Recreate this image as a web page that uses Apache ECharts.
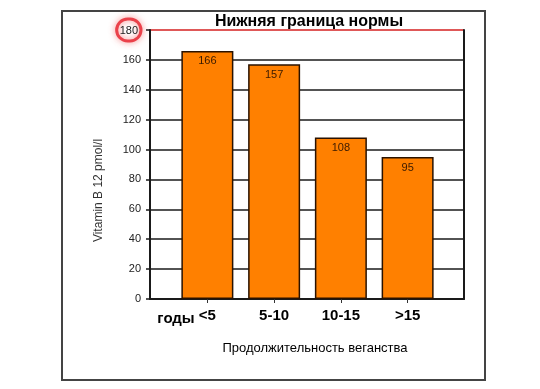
<!DOCTYPE html>
<html>
<head>
<meta charset="utf-8">
<script src="https://cdn.jsdelivr.net/npm/echarts@6/dist/echarts.min.js"></script>
<style>
html,body{margin:0;padding:0;background:#fff;}
#c{width:540px;height:389px;}
</style>
</head>
<body>
<div id="c"></div>
<script>
const categories = ['<5', '5-10', '10-15', '>15'];
const values = [166, 157, 108, 95];
const yTicks = [0, 20, 40, 60, 80, 100, 120, 140, 160, 180];
const titleText = 'Нижняя граница нормы';
const xTitle = 'Продолжительность веганства';
const yTitle = 'Vitamin B 12 pmol/l';
const yearsLabel = 'годы';

const FONT = '"Liberation Sans", Arial, sans-serif';
const yMin = yTicks[0], yMax = yTicks[yTicks.length - 1], yStep = yTicks[1] - yTicks[0];
const splitColors = yTicks.map(v => v === yMax ? '#d42020' : '#1a1a1a');

const chart = echarts.init(document.getElementById('c'));
chart.setOption({
  backgroundColor: '#fff',
  animation: false,
  graphic: [{
    type: 'rect', shape: {x: 62, y: 11, width: 423, height: 369},
    style: {fill: 'none', stroke: '#444', lineWidth: 2}, z: -1
  }],
  title: [
    {text: titleText, left: 304, top: 9, textAlign: 'center',
     textStyle: {fontFamily: FONT, fontSize: 16, fontWeight: 'bold', color: '#000'}},
    {text: xTitle, left: 310, top: 337, textAlign: 'center',
     textStyle: {fontFamily: FONT, fontSize: 13, fontWeight: 'normal', color: '#000'}},
    {text: yearsLabel, left: 171, top: 306, textAlign: 'center',
     textStyle: {fontFamily: FONT, fontSize: 15, fontWeight: 'bold', color: '#000'}}
  ],
  grid: [
    {left: 150, right: 76, top: 30, bottom: 90},
    {left: 174, right: 99, top: 30, bottom: 90}
  ],
  xAxis: [
    {type: 'value', gridIndex: 0, min: 0, max: 1, show: true,
     axisLine: {show: true, lineStyle: {color: '#1a1a1a', width: 2}},
     axisTick: {show: false}, axisLabel: {show: false}, splitLine: {show: false}},
    {type: 'category', gridIndex: 1, data: categories,
     axisLine: {show: false},
     axisTick: {show: true, alignWithLabel: true, length: 4, lineStyle: {color: '#333', width: 1}},
     axisLabel: {margin: 9, fontFamily: FONT, fontSize: 15, fontWeight: 'bold', color: '#000'}}
  ],
  yAxis: [
    {type: 'value', gridIndex: 0, min: yMin, max: yMax, interval: yStep,
     name: yTitle, nameLocation: 'middle', nameGap: 44, nameRotate: 90,
     nameTextStyle: {fontFamily: FONT, fontSize: 12, color: '#333', padding: [0, 52, 0, 0]},
     axisLine: {show: true, lineStyle: {color: '#1a1a1a', width: 2}},
     axisTick: {show: true, length: 4, lineStyle: {color: '#1a1a1a', width: 1.5}},
     axisLabel: {margin: 9, fontFamily: FONT, fontSize: 11, color: '#222',
       formatter: v => v === yMax ? '{hl|' + v + '}' : String(v),
       rich: {hl: {fontFamily: FONT, fontSize: 11, color: '#222',
         borderColor: 'rgba(230,40,50,0.85)', borderWidth: 3, borderRadius: 12,
         padding: [6, 3, 5, 3], shadowColor: 'rgba(240,60,60,0.8)', shadowBlur: 6}}},
     splitLine: {show: true, lineStyle: {color: splitColors, width: 1.5}}},
    {type: 'value', gridIndex: 0, min: yMin, max: yMax, position: 'right',
     axisLine: {show: true, lineStyle: {color: '#1a1a1a', width: 2}},
     axisTick: {show: false}, axisLabel: {show: false}, splitLine: {show: false}},
    {type: 'value', gridIndex: 1, min: yMin, max: yMax, show: false}
  ],
  series: [{
    type: 'bar', xAxisIndex: 1, yAxisIndex: 2, data: values, barWidth: 52,
    itemStyle: {color: '#FF8000', borderColor: '#2a1200', borderWidth: 1.5},
    label: {show: true, position: 'insideTop', distance: 5,
      fontFamily: FONT, fontSize: 11, color: '#3a1a00'},
    z: 5
  }]
});
</script>
</body>
</html>
